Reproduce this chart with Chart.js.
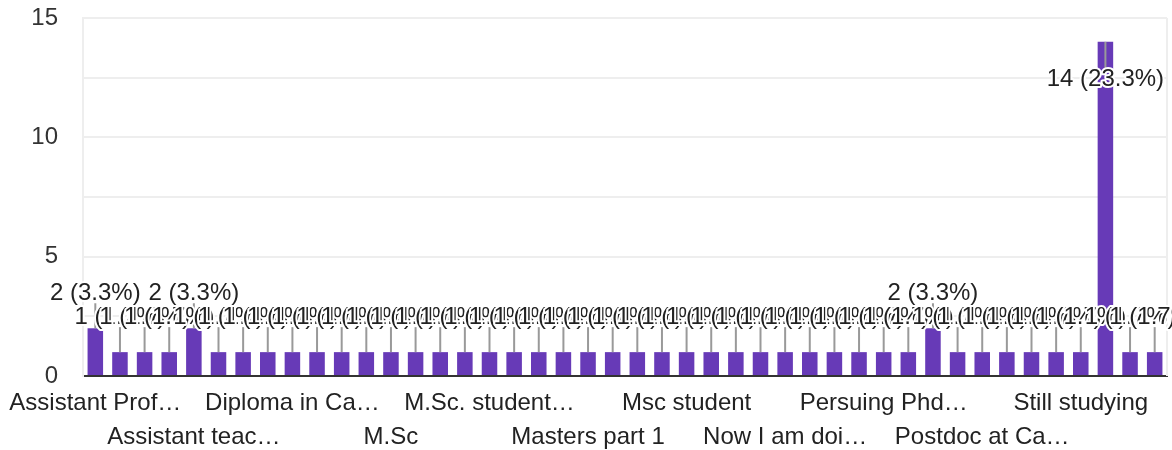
<!DOCTYPE html>
<html>
<head>
<meta charset="utf-8">
<script src="https://cdn.jsdelivr.net/npm/chart.js@4.4.0/dist/chart.umd.min.js"></script>
<style>
  html, body { margin: 0; padding: 0; background: #fff; }
  .chart-box { width: 1172px; height: 450px; }
</style>
</head>
<body>
<div class="chart-box"><canvas id="answers"></canvas></div>
<script>
// answers, sorted the way the form summary lists them
const categories = [
  "Assistant Prof…", "Assistant Professor", "Assistant lecturer", "Assistant professor",
  "Assistant teac…", "Chemist", "Completed MSc", "Demonstrator",
  "Diploma in Ca…", "Doing M.Sc", "Graduate", "Lab assistant",
  "M.Sc", "M.Sc student", "M.Sc. Chemistry", "M.Sc. final year",
  "M.Sc. student…", "MSc", "MSc Chemistry", "Master's student",
  "Masters part 1", "Masters part 2", "Msc", "Msc chemistry",
  "Msc student", "Msc. Student", "No", "Not working",
  "Now I am doi…", "PG student", "Ph.D scholar", "PhD student",
  "Persuing Phd…", "Phd", "Phd scholar", "Post graduate",
  "Postdoc at Ca…", "Research Scholar", "Research fellow", "Scientist",
  "Still studying", "Student", "Studying", "Teacher"
];
const counts = [
  2, 1, 1, 1,
  2, 1, 1, 1,
  1, 1, 1, 1,
  1, 1, 1, 1,
  1, 1, 1, 1,
  1, 1, 1, 1,
  1, 1, 1, 1,
  1, 1, 1, 1,
  1, 1, 2, 1,
  1, 1, 1, 1,
  1, 14, 1, 1
];
const yTicks = [0, 5, 10, 15];

const total = counts.reduce((a, b) => a + b, 0);
const FONT = '"Liberation Sans", Arial, sans-serif';
Chart.defaults.font.family = FONT;

// light frame on the right side of the plot
const plotFrame = {
  id: 'plotFrame',
  beforeDatasetsDraw(chart) {
    const { ctx, chartArea: a } = chart;
    ctx.save();
    ctx.strokeStyle = '#eeeeee';
    ctx.lineWidth = 2;
    ctx.beginPath();
    ctx.moveTo(a.right, a.top);
    ctx.lineTo(a.right, a.bottom);
    ctx.stroke();
    ctx.restore();
  }
};

// "n (p%)" labels on stems above each bar
const barLabels = {
  id: 'barLabels',
  afterDatasetsDraw(chart) {
    const ctx = chart.ctx;
    const area = chart.chartArea;
    const bars = chart.getDatasetMeta(0).data;
    const spots = bars.map((bar) => {
      let ty = bar.y - 35;
      let inside = false;
      if (ty - 12 < area.top) { ty = bar.y + 38; inside = true; }
      return { x: bar.x, y: bar.y, ty, inside };
    });
    ctx.save();
    ctx.strokeStyle = '#999';
    ctx.lineWidth = 2;
    spots.forEach((s) => {
      ctx.beginPath();
      ctx.moveTo(s.x, s.y);
      ctx.lineTo(s.x, s.inside ? s.ty - 10 : s.ty + 10);
      ctx.stroke();
    });
    ctx.font = '24px ' + FONT;
    ctx.textAlign = 'center';
    ctx.textBaseline = 'middle';
    ctx.lineJoin = 'round';
    spots.forEach((s, i) => {
      const v = counts[i];
      const text = v + ' (' + (v / total * 100).toFixed(1) + '%)';
      ctx.strokeStyle = '#fff';
      ctx.lineWidth = 4;
      ctx.strokeText(text, s.x, s.ty);
      ctx.fillStyle = '#222';
      ctx.fillText(text, s.x, s.ty);
    });
    ctx.restore();
  }
};

new Chart(document.getElementById('answers'), {
  type: 'bar',
  data: {
    labels: categories,
    datasets: [{
      data: counts,
      backgroundColor: '#673ab7',
      categoryPercentage: 1,
      barPercentage: 0.63
    }]
  },
  options: {
    responsive: true,
    maintainAspectRatio: false,
    animation: false,
    layout: { padding: 0 },
    plugins: {
      legend: { display: false },
      tooltip: { enabled: false }
    },
    scales: {
      x: {
        grid: { display: false, drawTicks: false },
        border: { color: '#333', width: 2 },
        ticks: {
          autoSkip: false,
          maxRotation: 0,
          minRotation: 0,
          padding: 11,
          color: '#222',
          font: { size: 24, lineHeight: 1.4 },
          callback: (v, i) => {
            if (i % 8 === 0) return categories[i];
            if (i % 8 === 4) return ['', categories[i]];
            return '';
          }
        },
        afterFit: (s) => {
          s.height = 74;
          s.paddingLeft = 0;
          s.paddingRight = 5;
        }
      },
      y: {
        min: 0,
        max: 15,
        grid: { color: '#eeeeee', lineWidth: 2, drawTicks: false },
        border: { color: '#eeeeee', width: 2 },
        ticks: {
          stepSize: 2.5,
          padding: 25,
          color: '#333',
          font: { size: 24 },
          callback: (v) => yTicks.includes(v) ? v : ''
        },
        afterFit: (s) => {
          s.width = 83;
          s.paddingTop = 18;
          s.paddingBottom = 0;
        }
      }
    }
  },
  plugins: [plotFrame, barLabels]
});
</script>
</body>
</html>
